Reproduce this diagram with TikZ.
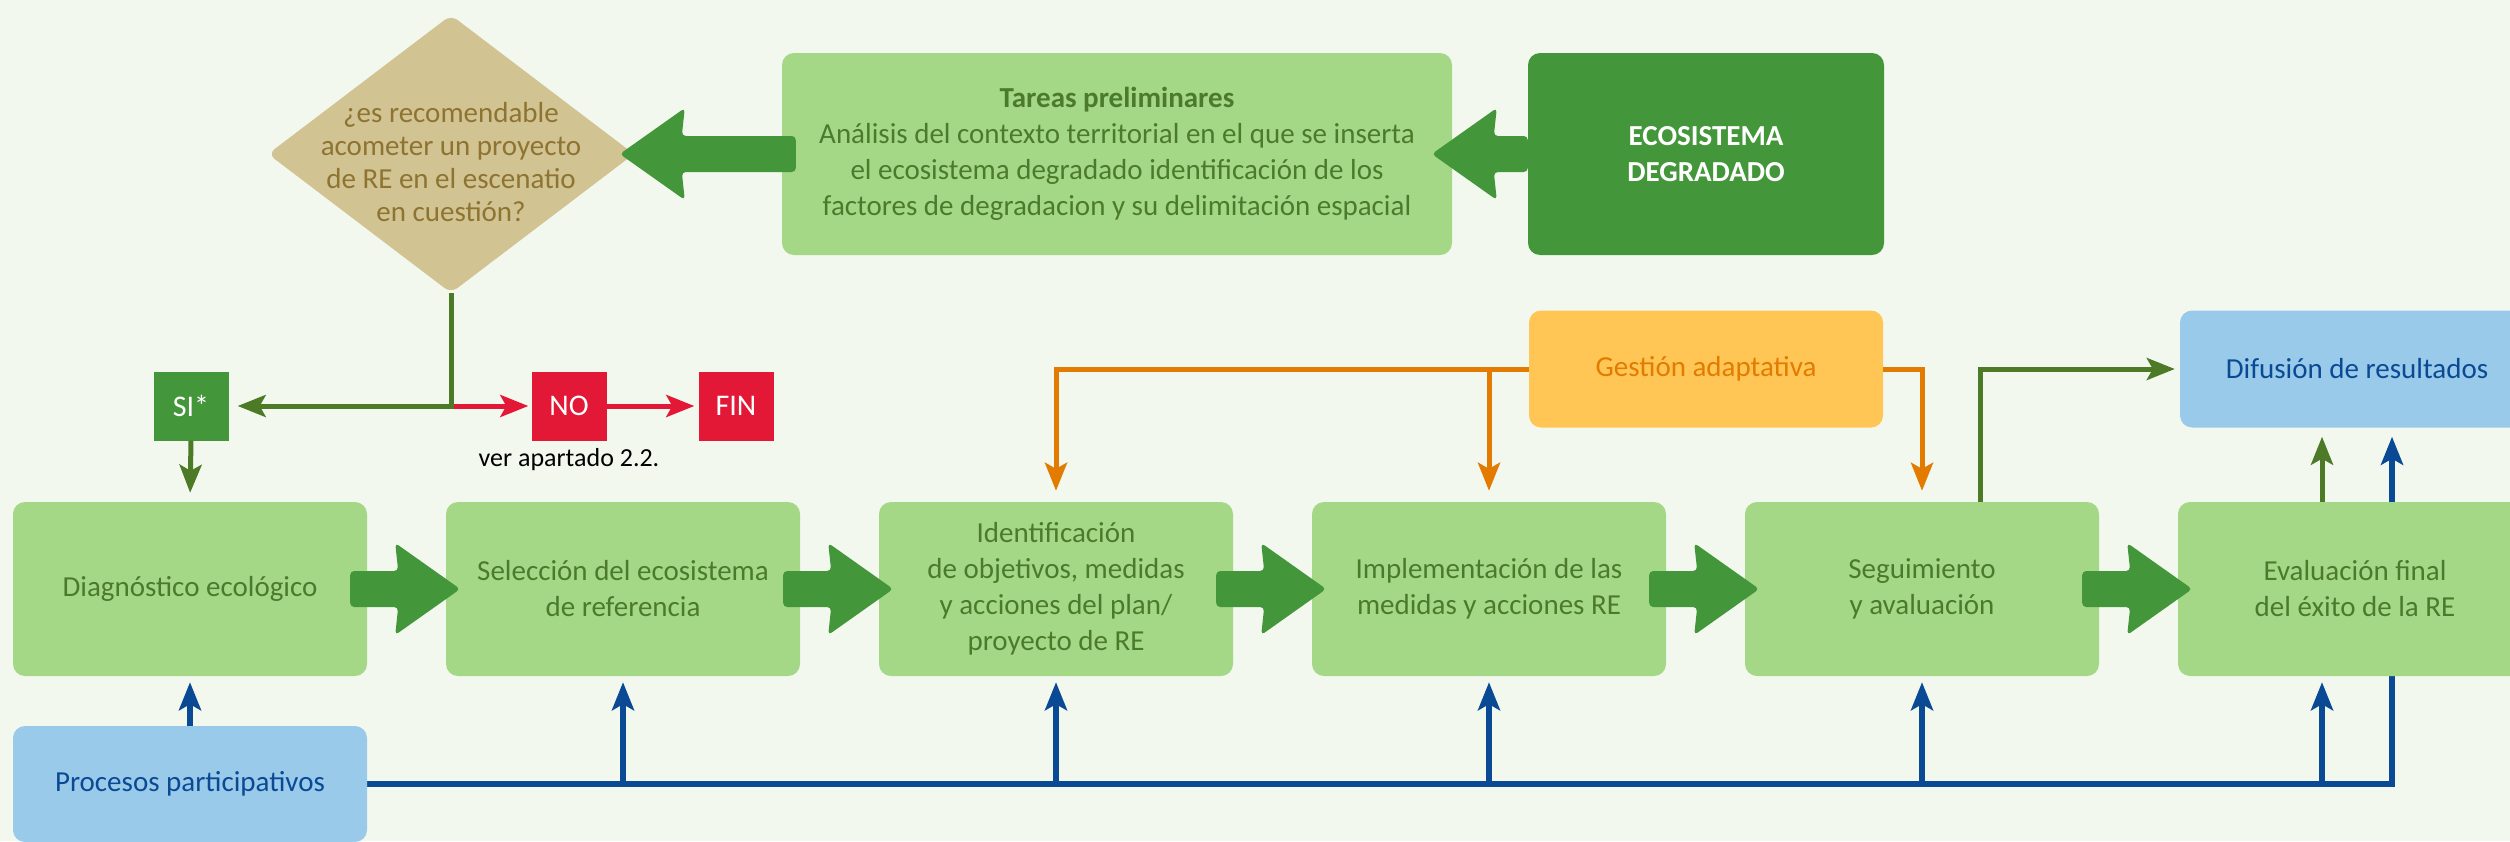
\documentclass[tikz,border=0pt]{standalone}
\usepackage{fontspec}
\setmainfont{Carlito}
\usepackage{tikz}
\usetikzlibrary{shapes.geometric, arrows.meta, calc}
\definecolor{fondo}{HTML}{F3F8EF}
\definecolor{verdeclaro}{HTML}{A5D886}
\definecolor{verdeosc}{HTML}{43963A}
\definecolor{textoverde}{HTML}{4C7A2C}
\definecolor{oliva}{HTML}{4D7A27}
\definecolor{rojo}{HTML}{E31837}
\definecolor{amarillo}{HTML}{FFC655}
\definecolor{naranja}{HTML}{E27B00}
\definecolor{azulclaro}{HTML}{9ACAEA}
\definecolor{azul}{HTML}{0A4A94}
\definecolor{arena}{HTML}{D2C393}
\definecolor{marron}{HTML}{8E7431}
\pgfdeclarelayer{capafondo}
\pgfsetlayers{capafondo,main}
\tikzstyle{caja} = [rectangle, rounded corners=12pt, fill=verdeclaro, text=textoverde, minimum width=354pt, minimum height=174pt, inner sep=0pt, align=center, font=\fontsize{29}{36}\selectfont]
\tikzstyle{cajaosc} = [caja, fill=verdeosc, text=white]
\tikzstyle{cajaazul} = [caja, fill=azulclaro, text=azul, minimum height=117pt]
\tikzstyle{cajagestion} = [caja, fill=amarillo, text=naranja, minimum height=117pt]
\tikzstyle{cuadro} = [rectangle, text=white, minimum width=75pt, minimum height=69pt, inner sep=0pt, font=\fontsize{30}{36}\selectfont]
\tikzstyle{rombo} = [diamond, fill=arena, rounded corners=8pt, minimum width=366pt, minimum height=278pt, inner sep=0pt]
\tikzstyle{textorombo} = [text=marron, align=center, font=\fontsize{29}{33}\selectfont]
\tikzstyle{linea} = [line width=5pt, -{Stealth[length=28pt,width=22pt,inset=6pt]}]
\tikzstyle{lineaverde} = [linea, draw=oliva]
\tikzstyle{linearoja} = [linea, draw=rojo]
\tikzstyle{lineanaranja} = [linea, draw=naranja]
\tikzstyle{lineaazul} = [linea, line width=6pt, draw=azul]
% flecha gruesa: (punto, sentido, inicio, punta)
\def\flecha(#1,#2,#3,#4){\fill[verdeosc, rounded corners=4pt, shift={(#1)}, xscale=#2] (#3,-18) -- (#4-62,-18) -- (#4-65,-46) -- (#4,0) -- (#4-65,46) -- (#4-62,18) -- (#3,18) -- cycle;}

\begin{document}
\begin{tikzpicture}[x=1pt,y=-1pt]
\useasboundingbox (0,0) rectangle (2510,841);
% fila superior
\node[rombo] (rombo) at (451,154) {};
\node[textorombo] (pregunta) at (451,162) {¿es recomendable\\acometer un proyecto\\de RE en el escenatio\\en cuestión?};
\node[caja, minimum width=670pt, minimum height=202pt] (tareas) at (1117,154) {\textbf{Tareas preliminares}\\Análisis del contexto territorial en el que se inserta\\el ecosistema degradado identificación de los\\factores de degradacion y su delimitación espacial};
\node[cajaosc, minimum width=356pt, minimum height=202pt] (ecosistema) at (1706,154) {\textbf{ECOSISTEMA}\\\textbf{DEGRADADO}};
\node[cuadro, fill=verdeosc] (si) at (191,406) {SI*};
\node[cuadro, fill=rojo] (no) at (569,406) {NO};
\node[cuadro, fill=rojo] (fin) at (736,406) {FIN};
\node[text=black, font=\fontsize{26}{30}\selectfont] (apartado) at (569,460) {ver apartado 2.2.};
\node[cajagestion] (gestion) at (1706,369) {Gestión adaptativa};
\node[cajaazul] (difusion) at (2357,369) {Difusión de resultados};
% fila de etapas
\node[caja] (diag) at (190,589) {Diagnóstico ecológico};
\node[caja] (selec) at (623,589) {Selección del ecosistema\\de referencia};
\node[caja] (ident) at (1056,589) {Identificación\\de objetivos, medidas\\y acciones del plan/\\proyecto de RE};
\node[caja] (impl) at (1489,589) {Implementación de las\\medidas y acciones RE};
\node[caja] (segui) at (1922,589) {Seguimiento\\y avaluación};
\node[caja] (eval) at (2355,589) {Evaluación final\\del éxito de la RE};
\node[cajaazul, minimum height=116pt] (procesos) at (190,784) {Procesos participativos};
% flechas gruesas
\flecha(tareas.west,-1,-14,162)
\flecha(ecosistema.west,-1,0,96)
\flecha(diag.east,1,-17,93)
\flecha(selec.east,1,-17,93)
\flecha(ident.east,1,-17,93)
\flecha(impl.east,1,-17,93)
\flecha(segui.east,1,-17,93)
% decision
\draw[linearoja, shorten >=3pt] (rombo.south |- no.west) -- (no.west);
\draw[linearoja, shorten >=4pt] (no.east) -- (fin.west);
\draw[lineaverde, shorten >=9pt] (rombo.south) |- (si.east);
\draw[lineaverde, shorten >=9pt] (si.south) -- (diag.north);
% gestion adaptativa
\draw[lineanaranja, shorten >=11pt] (gestion.west) -| (ident.north);
\draw[lineanaranja, shorten >=11pt] (gestion.west -| impl.north) -- (impl.north);
\draw[lineanaranja, shorten >=11pt] (gestion.east) -| (segui.north);
% difusion
\coordinate (seguisal) at ($(segui.north)+(58,0)$);
\coordinate (evalsal) at ($(eval.north)+(-33,0)$);
\coordinate (evalent) at ($(eval.south)+(-33,0)$);
\draw[lineaverde, shorten >=5pt] (seguisal) |- (difusion.west);
\draw[lineaverde, shorten >=9pt] (evalsal) -- (evalsal |- difusion.south);
% procesos participativos
\draw[lineaazul, shorten >=6pt] (procesos.north) -- (diag.south);
\draw[lineaazul, shorten >=6pt] (procesos.east -| selec.south) -- (selec.south);
\draw[lineaazul, shorten >=6pt] (procesos.east -| ident.south) -- (ident.south);
\draw[lineaazul, shorten >=6pt] (procesos.east -| impl.south) -- (impl.south);
\draw[lineaazul, shorten >=6pt] (procesos.east -| segui.south) -- (segui.south);
\draw[lineaazul, shorten >=6pt] (procesos.east -| evalent) -- (evalent);
\begin{pgfonlayer}{capafondo}
\fill[fondo] (0,0) rectangle (2510,841);
\draw[lineaazul, shorten >=9pt] (procesos.east) -| ($(difusion.south)+(35,0)$);
\end{pgfonlayer}
\end{tikzpicture}
\end{document}
